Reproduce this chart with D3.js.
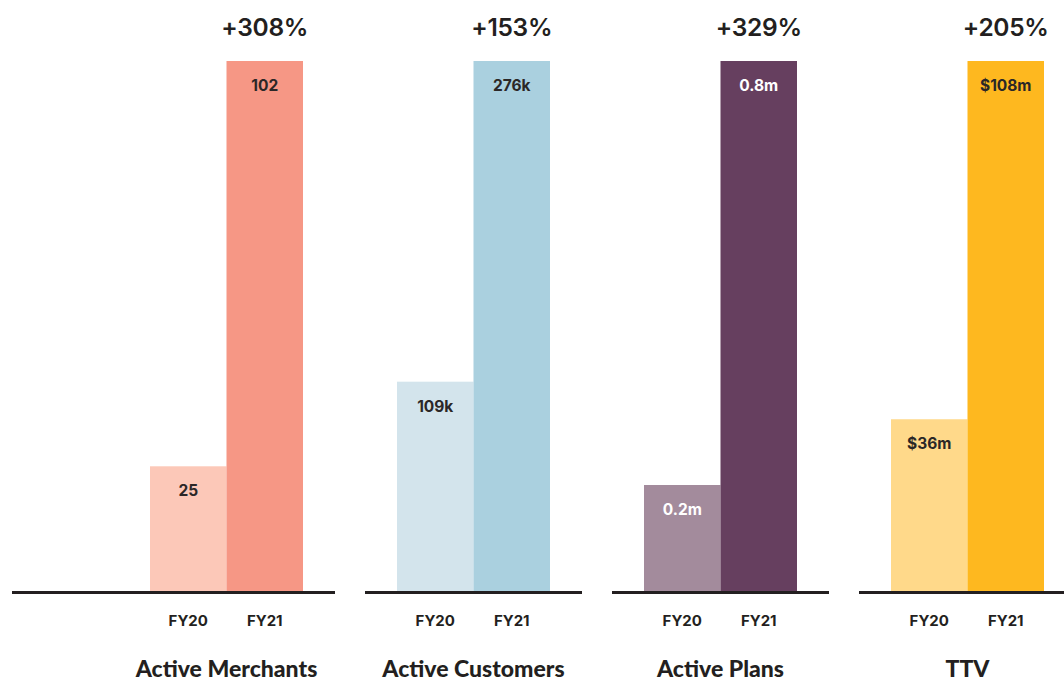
<!DOCTYPE html>
<html>
<head>
<meta charset="utf-8">
<script src="https://cdn.jsdelivr.net/npm/d3@7"></script>
<style>
  html, body { margin: 0; padding: 0; background: #ffffff; }
  svg { display: block; }
</style>
</head>
<body>
<div id="chart"></div>
<script>
// ---- data ----
const metrics = ["Active Merchants", "Active Customers", "Active Plans", "TTV"];
const periods = ["FY20", "FY21"];
const merchantsValues = [24, 102];
const customersValues = [109, 276];
const plansValues = [0.16, 0.8];
const ttvValues = [35, 108];
const merchantsLabels = ["25", "102"];
const customersLabels = ["109k", "276k"];
const plansLabels = ["0.2m", "0.8m"];
const ttvLabels = ["$36m", "$108m"];
const growthLabels = ["+308%", "+153%", "+329%", "+205%"];

const seriesValues = [merchantsValues, customersValues, plansValues, ttvValues];
const seriesLabels = [merchantsLabels, customersLabels, plansLabels, ttvLabels];
const colors = [
  ["#FCC8B8", "#F69785"],
  ["#D3E4EC", "#AAD0DF"],
  ["#A38B9C", "#663F5F"],
  ["#FFD98A", "#FEB81F"]
];
const labelColors = ["#2b2727", "#2b2727", "#ffffff", "#2b2727"];

// ---- layout ----
const W = 1064, H = 682;
const baseY = 591, topY = 61;
const textColor = "#231f20";

const svg = d3.select("#chart").append("svg").attr("width", W).attr("height", H);

const x0 = d3.scaleBand().domain(metrics).range([150, 1044]).paddingInner(94 / 247).paddingOuter(0);
const x1 = d3.scaleBand().domain(periods).range([0, x0.bandwidth()]);

metrics.forEach((m, i) => {
  const vals = seriesValues[i];
  const y = d3.scaleLinear().domain([0, d3.max(vals)]).range([baseY, topY]);
  const g = svg.append("g").attr("transform", `translate(${x0(m)},0)`);

  g.selectAll("rect.bar")
    .data(periods.map((p, j) => ({ p, v: vals[j], j })))
    .join("rect")
    .attr("class", "bar")
    .attr("x", d => x1(d.p))
    .attr("width", x1.bandwidth())
    .attr("y", d => y(d.v))
    .attr("height", d => baseY - y(d.v))
    .attr("fill", d => colors[i][d.j]);

  g.selectAll("text.val")
    .data(periods.map((p, j) => ({ p, v: vals[j], j })))
    .join("text")
    .attr("class", "val")
    .attr("x", d => x1(d.p) + x1.bandwidth() / 2)
    .attr("y", d => y(d.v) + 30)
    .attr("text-anchor", "middle")
    .attr("font-family", "Inter, 'Open Sans', sans-serif")
    .attr("font-weight", 700)
    .attr("font-size", 15.5)
    .attr("fill", labelColors[i])
    .text(d => seriesLabels[i][d.j]);

  // growth label above FY21 bar
  g.append("text")
    .attr("x", x1("FY21") + x1.bandwidth() / 2)
    .attr("y", 36)
    .attr("text-anchor", "middle")
    .attr("font-family", "Inter, 'Open Sans', sans-serif")
    .attr("font-weight", 600)
    .attr("font-size", 24.5)
    .attr("letter-spacing", -0.3)
    .attr("fill", textColor)
    .text(growthLabels[i]);

  // baseline axis
  const left = i === 0 ? 12 - x0(m) : -32;
  const right = i === metrics.length - 1 ? W - x0(m) : x0.bandwidth() + 32;
  g.append("line")
    .attr("x1", left).attr("x2", right)
    .attr("y1", baseY + 1.5).attr("y2", baseY + 1.5)
    .attr("stroke", "#231f20").attr("stroke-width", 3.2);

  // tick labels
  const axis = d3.axisBottom(x1).tickSize(0).tickPadding(0);
  const ax = g.append("g").attr("transform", `translate(0,${626})`).call(axis);
  ax.select(".domain").remove();
  ax.selectAll("text")
    .attr("dy", 0)
    .attr("y", 0)
    .attr("font-family", "Inter, 'Open Sans', sans-serif")
    .attr("font-weight", 700)
    .attr("font-size", 15)
    .attr("fill", textColor);

  // panel title
  g.append("text")
    .attr("x", x0.bandwidth() / 2)
    .attr("y", 677)
    .attr("text-anchor", "middle")
    .attr("font-family", "Lato, 'Open Sans', sans-serif")
    .attr("font-weight", 900)
    .attr("font-size", 23)
    .attr("fill", textColor)
    .text(m);
});
</script>
</body>
</html>
